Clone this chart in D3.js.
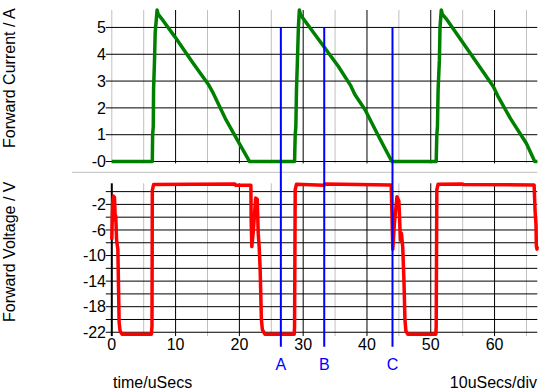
<!DOCTYPE html>
<html>
<head>
<meta charset="utf-8">
<script src="https://cdn.jsdelivr.net/npm/d3@7"></script>
<style>
body { margin: 0; background: #fff; }
text { font-family: "Liberation Sans", Arial, sans-serif; font-size: 16px; }
</style>
</head>
<body>
<svg id="chart" width="540" height="389"></svg>
<script>
// data
var currTime = [0, 6.35, 6.4, 6.5, 6.55, 6.7, 6.8, 7.1, 7.25, 7.8, 9.95, 12.5, 15.2, 15.9, 17.8, 20, 21.6, 28.65,
    28.75, 28.85, 28.95, 29.1, 29.25, 29.4, 29.55, 30, 33.2, 35.5, 37.4, 38.1, 39.7, 42, 43.9, 50.85,
    50.95, 51.05, 51.15, 51.35, 51.45, 51.65, 51.8, 52.4, 56, 59.8, 60.5, 62.5, 65, 66.3, 66.7];
var currVal = [0, 0, 1.0, 1.3, 2.7, 3.8, 4.8, 5.65, 5.5, 5.33, 4.63, 3.75, 2.85, 2.55, 1.6, 0.67, 0, 0,
    1.0, 1.3, 2.67, 3.78, 5.0, 5.65, 5.5, 5.33, 4.3, 3.55, 2.85, 2.5, 1.93, 0.86, 0, 0,
    1.0, 1.3, 2.67, 3.78, 5.0, 5.65, 5.5, 5.33, 4.1, 2.8, 2.45, 1.6, 0.67, 0, 0];

var voltTime = [0, 0.12, 0.25, 0.42, 0.55, 0.62, 0.75, 0.95, 1.15, 1.3, 1.6, 6.2, 6.3, 6.35, 6.55, 12.5, 19.3, 19.4, 21.8,
    21.85, 21.95, 22.2, 22.55, 22.8, 22.95, 23.1, 23.25, 23.45, 23.6, 24, 28.6, 28.65, 28.75, 28.95, 33.3, 33.4, 43.8,
    43.9, 44.05, 44.3, 44.7, 45.0, 45.25, 45.4, 45.6, 45.8, 45.95, 46.1, 46.4, 50.8, 50.85, 50.95, 51.15, 55, 55.1, 66.2,
    66.35, 66.5, 66.55, 66.65, 66.7];
var voltVal = [-7.5, -2, -0.7, -0.9, -4.5, -3.8, -7.6, -9, -20.5, -21.8, -22.3, -22.3, -21, 0.2, 1.1, 1.15, 1.2, 1.0, 1.0,
    -4.7, -8.6, -6, -1.0, -1.2, -6.5, -8.6, -12, -20, -21.6, -22.3, -22.3, -21, 0.3, 1.15, 1.0, 1.2, 1.05,
    -3, -9, -5, -0.8, -1.5, -7.6, -6.5, -8.6, -14, -20, -21.8, -22.3, -22.3, -21, 0.3, 1.15, 1.2, 1.1, 1.05,
    -3, -5.2, -8.5, -9, -8.6];

var cursorNames = ['A', 'B', 'C'];
var cursorTimes = [26.5, 33.3, 44.0];

var timeTicks = [0, 10, 20, 30, 40, 50, 60];
var timeMinor = [0, 5, 15, 25, 35, 45, 55, 65];
var currTicks = [0, 1, 2, 3, 4, 5];
var currTickLabels = ['-0', '1', '2', '3', '4', '5'];
var voltGrid = [0, -2, -4, -6, -8, -10, -12, -14, -16, -18, -20, -22];
var voltTicks = [-2, -6, -10, -14, -18, -22];

var svg = d3.select('#chart');
var left = 111.8, right = 537.3;
var gray = '#c0c0c0';

var x = d3.scaleLinear().domain([0, 66.7]).range([left, right]);
var yc = d3.scaleLinear().domain([-0.07, 5.65]).range([163.4, 10]);
var yv = d3.scaleLinear().domain([-22.6, 1.3]).range([336.1, 183.3]);

var gridPanel = function(y, yTicks, blackZero) {
    var top = y.range()[1], bottom = y.range()[0];
    timeMinor.forEach(function(t) {
        svg.append('line').attr('x1', x(t)).attr('x2', x(t)).attr('y1', top).attr('y2', bottom)
            .attr('stroke', (t === 0 && blackZero) ? '#000' : gray).attr('stroke-width', (t === 0 && blackZero) ? 2 : 1);
    });
    timeTicks.forEach(function(t) {
        if (t === 0) return;
        svg.append('line').attr('x1', x(t)).attr('x2', x(t)).attr('y1', top).attr('y2', bottom)
            .attr('stroke', '#000').attr('stroke-width', 1);
    });
    yTicks.forEach(function(v) {
        svg.append('line').attr('x1', left - 6).attr('x2', right).attr('y1', y(v)).attr('y2', y(v))
            .attr('stroke', '#000').attr('stroke-width', 1);
    });
};

gridPanel(yc, currTicks, false);
gridPanel(yv, voltGrid, true);

// separator between the two traces
svg.append('line').attr('x1', 72).attr('x2', right).attr('y1', 172.3).attr('y2', 172.3)
    .attr('stroke', gray).attr('stroke-width', 1);

// y tick labels
currTicks.forEach(function(v, i) {
    svg.append('text').attr('x', 106).attr('y', yc(v)).attr('dy', '0.36em')
        .attr('text-anchor', 'end').text(currTickLabels[i]);
});
voltTicks.forEach(function(v) {
    svg.append('text').attr('x', 106).attr('y', yv(v)).attr('dy', '0.36em')
        .attr('text-anchor', 'end').text(v);
});
timeTicks.forEach(function(t) {
    svg.append('text').attr('x', x(t)).attr('y', 350)
        .attr('text-anchor', 'middle').text(t);
});

// traces
var currLine = d3.line().x(function(d, i) { return x(currTime[i]); }).y(function(d) { return yc(d); });
var voltLine = d3.line().x(function(d, i) { return x(voltTime[i]); }).y(function(d) { return yv(d); });

svg.append('path').attr('d', currLine(currVal))
    .attr('stroke', '#008000').attr('stroke-width', 3.5).attr('fill', 'none').attr('stroke-linejoin', 'round');
svg.append('path').attr('d', voltLine(voltVal))
    .attr('stroke', '#ff0000').attr('stroke-width', 3.5).attr('fill', 'none').attr('stroke-linejoin', 'round');

// cursors
cursorTimes.forEach(function(t, i) {
    svg.append('line').attr('x1', x(t)).attr('x2', x(t)).attr('y1', yc(5)).attr('y2', 346.7)
        .attr('stroke', '#0000ff').attr('stroke-width', 2);
    svg.append('text').attr('x', x(t)).attr('y', 370).attr('text-anchor', 'middle')
        .attr('fill', '#0000ff').text(cursorNames[i]);
});

// axis titles
svg.append('text').attr('transform', 'translate(15,148) rotate(-90)').text('Forward Current / A');
svg.append('text').attr('transform', 'translate(15,322) rotate(-90)').text('Forward Voltage / V');
svg.append('text').attr('x', 113).attr('y', 387.5).text('time/uSecs');
svg.append('text').attr('x', 537).attr('y', 387.5).attr('text-anchor', 'end').text('10uSecs/div');
</script>
</body>
</html>
